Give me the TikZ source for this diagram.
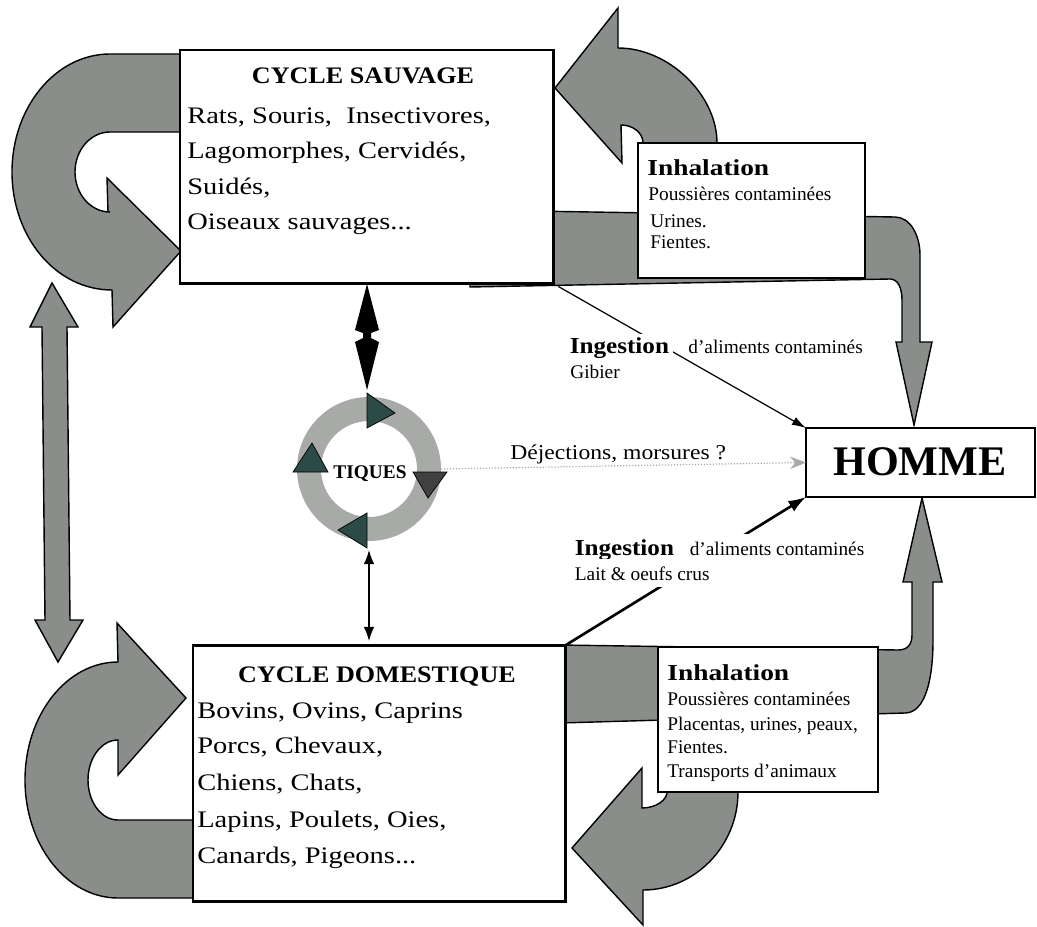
\documentclass[tikz,border=0pt]{standalone}
\usepackage{fontspec}
\setmainfont{Liberation Serif}
\newfontfamily\bodyfont[FakeStretch=1.2]{Liberation Serif}
\newfontfamily\titlefont[FakeStretch=1.1]{Liberation Serif}
\newfontfamily\labfont[FakeStretch=1.12]{Liberation Serif}
\usetikzlibrary{arrows.meta}
\definecolor{arrowgray}{RGB}{138,142,138}
\definecolor{ringgray}{RGB}{168,170,168}
\definecolor{tridark}{RGB}{45,75,70}
\definecolor{dejgray}{RGB}{170,170,170}
\begin{document}
\begin{tikzpicture}[x=0.02cm,y=-0.02cm,
  bigarrow/.style={fill=arrowgray,draw=black,line width=0.8pt,line join=miter},
  cyclebox/.style={draw=black,line width=1.7pt,fill=white,rectangle,inner sep=0pt,outer sep=0pt,anchor=north west},
  inhalbox/.style={draw=black,line width=1pt,fill=white,rectangle,inner sep=0pt,outer sep=0pt,anchor=north west},
  ttl/.style={anchor=base,font=\titlefont\bfseries\fontsize{13.5}{16}\selectfont,inner sep=0pt},
  body/.style={anchor=base west,font=\bodyfont\fontsize{13.5}{16}\selectfont,inner sep=0pt},
  small/.style={anchor=base west,font=\fontsize{11}{13}\selectfont,inner sep=0pt},
  smallbold/.style={anchor=base west,font=\bodyfont\bfseries\fontsize{13}{15}\selectfont,inner sep=0pt},
  tri/.style={fill=tridark,draw=black,line width=0.4pt},
]
\useasboundingbox[fill=white] (0,0) rectangle (1037,926);

% ---------- big grey arrows ----------
% top-left U-turn arrow
\path[bigarrow] (190,54) -- (110,54)
  .. controls (55.9,54) and (12,106.9) .. (12,172)
  .. controls (12,237.1) and (55.9,290) .. (112,290)
  -- (113,327) -- (181,251) -- (107,178) -- (108,212) -- (110,212)
  .. controls (90.7,212) and (75,194.1) .. (75,172)
  .. controls (75,149.9) and (90.7,132) .. (110,132)
  -- (190,132) -- cycle;
% bottom-left U-turn arrow
\path[bigarrow] (200,898) -- (118,898)
  .. controls (66.7,898) and (25,845.1) .. (25,780)
  .. controls (25,714.9) and (66.7,662) .. (118,662)
  -- (117,623) -- (186,698) -- (118,775) -- (118,740)
  .. controls (101.4,740) and (88,757.9) .. (88,780)
  .. controls (88,802.1) and (101.4,820) .. (118,820)
  -- (200,820) -- cycle;
% left double arrow
\path[bigarrow] (52,283) -- (78,327) -- (67,327) -- (70,620) -- (83,620) -- (58,662)
  -- (35,620) -- (45,620) -- (42,327) -- (30,327) -- cycle;
% upper right bent arrow to HOMME
\path[bigarrow] (470,210) -- (895,217) .. controls (910,217) and (920,235) .. (920,255)
  -- (920,342) -- (932,342) -- (914,425) -- (896,342) -- (902,342) -- (902,300)
  .. controls (902,288) and (898,279) .. (890,279) -- (470,287) -- cycle;
% lower right bent arrow to HOMME
\path[bigarrow] (560,645) -- (898,650) .. controls (907,650) and (912,645) .. (912,635)
  -- (912,582) -- (903,582) -- (922,498) -- (942,582) -- (933,582) -- (933,640)
  .. controls (933,680) and (925,713) .. (905,713) -- (560,723) -- cycle;
% upper curved arrow
\path[bigarrow] (555,88) -- (618,8) -- (618,48) .. controls (669,48) and (717,95) .. (717,143)
  -- (717,160) -- (643,160) -- (643,143) .. controls (643,133) and (633,125) .. (621,125)
  -- (622,163) -- cycle;
% lower curved arrow
\path[bigarrow] (572,848) -- (642,768) -- (642,808) .. controls (656,808) and (667,800) .. (667,792)
  -- (667,780) -- (738,780) -- (738,792) .. controls (738,846) and (695,890) .. (643,890)
  -- (643,925) -- cycle;

% ---------- boxes ----------
\node[cyclebox,minimum width=7.48cm,minimum height=4.68cm] (sauv) at (180,50) {};
\node[cyclebox,minimum width=7.46cm,minimum height=5.14cm] (dom) at (193,645) {};
\node[inhalbox,minimum width=4.54cm,minimum height=2.7cm] (inh1) at (638,143) {};
\node[inhalbox,minimum width=4.4cm,minimum height=2.9cm] (inh2) at (658,647) {};
\node[draw=black,line width=1.5pt,fill=white,inner sep=0pt,outer sep=0pt,anchor=north west,
  minimum width=4.58cm,minimum height=1.38cm] (homme) at (806,428) {};
\node[anchor=base,inner sep=0pt,font=\bfseries\fontsize{24}{28}\selectfont] (hommet) at (920,475) {HOMME};

% ---------- tiques ring ----------
\fill[ringgray,even odd rule] (369,469) circle[radius=72] (369,469) circle[radius=48];
\node[circle,minimum size=2.88cm,inner sep=0pt,outer sep=0pt] (tiq) at (369,469) {};
\path[tri] (367,393) -- (395,413) -- (367,428) -- cycle;
\path[tri,fill=black!75] (413,472) -- (447,472) -- (428,498) -- cycle;
\path[tri] (367,513) -- (338,530) -- (367,548) -- cycle;
\path[tri] (293,472) -- (312,443) -- (328,472) -- cycle;
\node[anchor=base,inner sep=0pt,font=\bfseries\fontsize{11}{13}\selectfont] (tiqt) at (370,478) {TIQUES};

% ---------- connectors ----------
\path[fill=black] (367,284) -- (379,330) -- (371,333) -- (371,338) -- (379,342) -- (367,390)
  -- (355,342) -- (363,338) -- (363,333) -- (355,330) -- cycle;
\draw[line width=0.8pt,{Latex[length=8pt,width=6pt]}-{Latex[length=8pt,width=6pt]},
  shorten <=0.18cm,shorten >=0.08cm] (tiq.south) -- (tiq.south |- dom.north);
\draw[dejgray,line width=0.7pt,densely dotted,-{Stealth[length=9pt,width=7pt]}] (tiq.east) -- (homme.west);
\draw[line width=0.7pt,-{Latex[length=8pt,width=5pt]},shorten <=0.1cm] (sauv.south east) -- (homme.north west);
\draw[line width=1.5pt,-{Latex[length=10pt,width=7pt]}] (dom.north east) -- (homme.south west);

% ---------- texts ----------
\node[ttl] (st) at (363,84) {CYCLE SAUVAGE};
\node[body] (s1) at (187,123) {Rats, Souris,\ \ Insectivores,};
\node[body] (s2) at (187,158) {Lagomorphes, Cervidés,};
\node[body] (s3) at (187,194) {Suidés,};
\node[body] (s4) at (187,229) {Oiseaux sauvages...};

\node[ttl] (dt) at (377,682) {CYCLE DOMESTIQUE};
\node[body] (d1) at (197,718) {Bovins, Ovins, Caprins};
\node[body] (d2) at (197,753) {Porcs, Chevaux,};
\node[body] (d3) at (197,790) {Chiens, Chats,};
\node[body] (d4) at (197,827) {Lapins, Poulets, Oies,};
\node[body] (d5) at (197,863) {Canards, Pigeons...};

\node[smallbold] (i1t) at (647,175) {Inhalation};
\node[small] (i11) at (648,200) {Poussières contaminées};
\node[small] (i12) at (650,227) {Urines.};
\node[small] (i13) at (650,248) {Fientes.};

\node[smallbold] (i2t) at (667,680) {Inhalation};
\node[small] (i21) at (667,705) {Poussières contaminées};
\node[small] (i22) at (667,730) {Placentas, urines, peaux,};
\node[small] (i23) at (667,753) {Fientes.};
\node[small] (i24) at (667,777) {Transports d'animaux};

\node[anchor=base west,fill=white,inner sep=2pt,font=\titlefont\bfseries\fontsize{13}{15}\selectfont] (g1) at (566,353) {Ingestion};
\node[small] (g1b) at (688,353) {d'aliments contaminés};
\node[small] (g1c) at (570,378) {Gibier};

\node[anchor=base west,fill=white,inner xsep=2pt,inner ysep=3pt] (g2) at (571,555)
  {{\titlefont\bfseries\fontsize{13}{15}\selectfont Ingestion}\hspace{9pt}{\fontsize{11}{13}\selectfont d'aliments contaminés}};
\node[anchor=base west,fill=white,inner xsep=2pt,inner ysep=4pt,font=\fontsize{11}{13}\selectfont] (g2b) at (571,580) {Lait \& oeufs crus};

\node[anchor=base west,inner sep=0pt,font=\labfont\fontsize{12}{14}\selectfont] (dj) at (510,459) {Déjections, morsures ?};
\end{tikzpicture}
\end{document}
